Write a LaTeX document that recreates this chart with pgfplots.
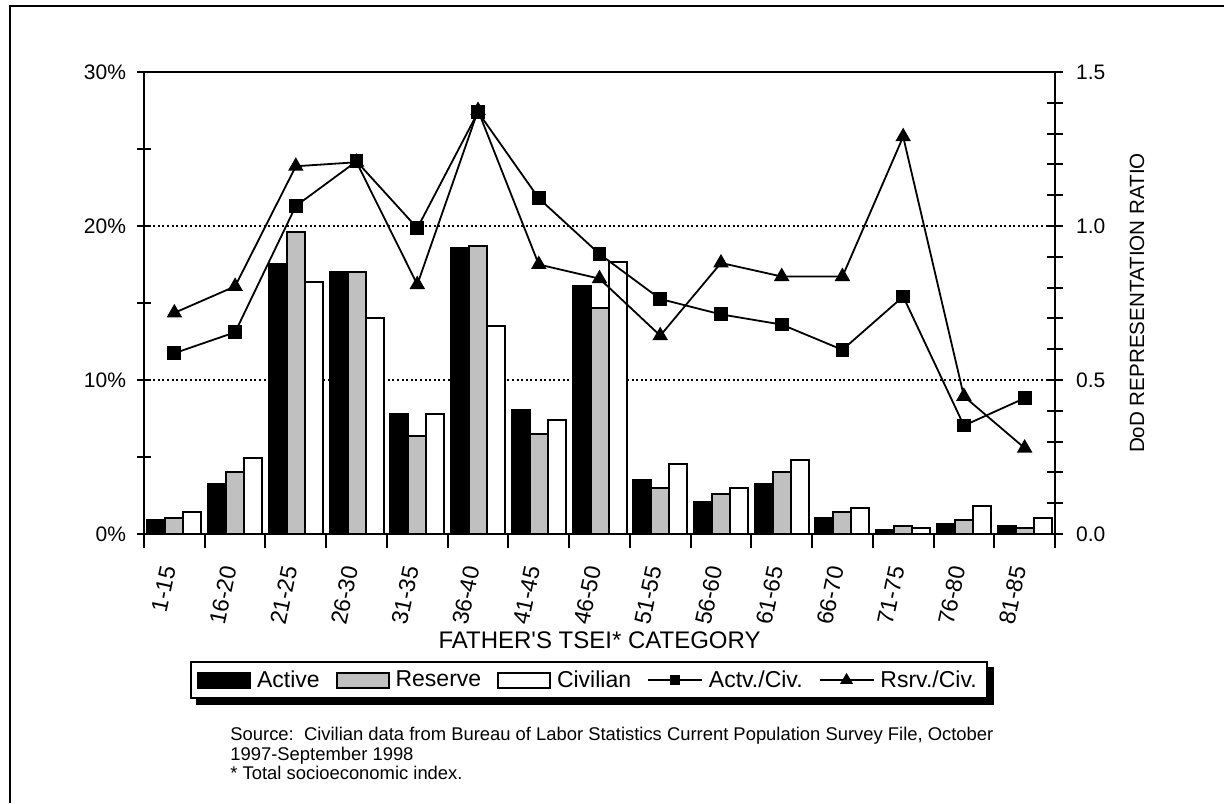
\documentclass[border=0pt]{standalone}
\usepackage{fontspec}
\setmainfont{Liberation Sans}
\usepackage{pgfplots}
\usepackage{pgfplotstable}
\pgfplotsset{compat=1.18}
\usetikzlibrary{backgrounds}
\definecolor{resgray}{HTML}{C0C0C0}

% shares by father's TSEI category (percent) and representation ratios
\pgfplotstableread{
idx active reserve civilian actciv rsvciv
0  0.92  1.03  1.42 0.587 0.718
1  3.26  4.02  4.93 0.655 0.804
2  17.56 19.59 16.36 1.065 1.194
3  17.01 17.01 14.02 1.210 1.207
4  7.81  6.36  7.79 0.993 0.810
5  18.60 18.70 13.50 1.370 1.375
6  8.07  6.49  7.40 1.090 0.875
7  16.13 14.67 17.66 0.909 0.829
8  3.52  3.00  4.54 0.763 0.644
9  2.11  2.61  3.00 0.713 0.880
10 3.26  4.02  4.80 0.680 0.836
11 1.05  1.42  1.68 0.598 0.836
12 0.27  0.51  0.38 0.771 1.290
13 0.66  0.90  1.81 0.352 0.447
14 0.53  0.38  1.03 0.441 0.279
}\tsei

\begin{document}
\begin{tikzpicture}[x=1pt,y=1pt]
\useasboundingbox (0,0) rectangle (612,401.5);
\draw[line width=1pt] (5,0) -- (5,398.5) -- (612,398.5);

\begin{axis}[
  at={(72pt,134.5pt)}, anchor=south west, scale only axis,
  width=455.5pt, height=231pt,
  xmin=-0.5, xmax=14.5, ymin=0, ymax=30,
  axis line style={line width=1.1pt},
  xtick={0,...,14},
  xticklabels={1-15,16-20,21-25,26-30,31-35,36-40,41-45,46-50,51-55,56-60,61-65,66-70,71-75,76-80,81-85},
  major x tick style={draw=none},
  minor xtick={-0.5,0.5,...,14.5},
  xtick pos=bottom, ytick pos=left,
  ytick={0,10,20,30}, yticklabels={0\%,10\%,20\%,30\%},
  minor ytick={5,15,25},
  tick align=center, major tick length=7pt, minor tick length=7pt,
  tick style={line width=1pt, black},
  x tick label style={inner sep=0pt, xshift=-3pt, yshift=-9pt, rotate=78, anchor=east, font=\fontsize{11.5}{14}\selectfont},
  y tick label style={font=\fontsize{10.5}{12}\selectfont, xshift=-2pt},
  /pgf/number format/assume math mode=true,
  ymajorgrids, grid style={black, line width=0.8pt, dash pattern=on 1pt off 1.3pt},
  xlabel={FATHER\textquotesingle S TSEI* CATEGORY},
  xlabel style={at={(axis description cs:0.5,-0.2305)}, anchor=center, font=\fontsize{12}{14}\selectfont},
  ybar, bar width=9pt,
]
\addplot[bar shift=-9pt, draw=black, line width=1pt, fill=black] table[x=idx, y=active] {\tsei};
\addplot[bar shift=0pt, draw=black, line width=1pt, fill=resgray] table[x=idx, y=reserve] {\tsei};
\addplot[bar shift=9pt, draw=black, line width=1pt, fill=white] table[x=idx, y=civilian] {\tsei};
\end{axis}

\begin{axis}[
  at={(72pt,134.5pt)}, anchor=south west, scale only axis,
  width=455.5pt, height=231pt,
  xmin=-0.5, xmax=14.5, ymin=0, ymax=1.5,
  axis x line=none, axis y line*=right,
  axis line style={line width=1.1pt},
  ytick={0,0.5,1,1.5}, yticklabels={0.0,0.5,1.0,1.5},
  minor ytick={0.1,0.2,0.3,0.4,0.6,0.7,0.8,0.9,1.1,1.2,1.3,1.4},
  tick align=center, major tick length=8pt, minor tick length=8pt,
  tick style={line width=1pt, black},
  y tick label style={font=\fontsize{10.5}{12}\selectfont, xshift=3pt},
  /pgf/number format/assume math mode=true,
  ylabel={DoD REPRESENTATION RATIO},
  ylabel style={at={(axis description cs:1.09,0.5)}, anchor=center, rotate=0, font=\fontsize{10.3}{12}\selectfont},
  clip=false,
  legend columns=5,
  legend style={name=leg, at={(axis description cs:0.4885,-0.3165)}, anchor=center,
    draw=black, line width=1pt, fill=white,
    font=\fontsize{11.5}{13}\selectfont,
    /tikz/every odd column/.append style={column sep=1pt},
    /tikz/every even column/.append style={column sep=6pt}},
]
\addlegendimage{legend image code/.code={\draw[line width=0.9pt, fill=black] (0pt,-3.75pt) rectangle (26pt,3.75pt);}}
\addlegendentry{Active}
\addlegendimage{legend image code/.code={\draw[line width=0.9pt, fill=resgray] (0pt,-3.75pt) rectangle (26pt,3.75pt);}}
\addlegendentry{Reserve}
\addlegendimage{legend image code/.code={\draw[line width=0.9pt, fill=white] (0pt,-3.75pt) rectangle (26pt,3.75pt);}}
\addlegendentry{Civilian}
\addplot[black, line width=0.9pt, mark=square*, mark size=3pt,
  legend image code/.code={\draw[line width=0.9pt] (0pt,0pt) -- (27pt,0pt); \fill (11.5pt,-2pt) rectangle (15.5pt,2pt);}]
  table[x=idx, y=actciv] {\tsei};
\addlegendentry{Actv./Civ.}
\addplot[black, line width=0.9pt, mark=triangle*, mark size=3.6pt,
  legend image code/.code={\draw[line width=0.9pt] (0pt,0pt) -- (27pt,0pt); \fill (13.5pt,2.8pt) -- (11pt,-1.4pt) -- (16pt,-1.4pt) -- cycle;}]
  table[x=idx, y=rsvciv] {\tsei};
\addlegendentry{Rsrv./Civ.}
\end{axis}

\begin{scope}[on background layer]
\fill[black] ([shift={(3pt,-3pt)}]leg.south west) rectangle ([shift={(3pt,-3pt)}]leg.north east);
\end{scope}

\begin{scope}[every node/.style={anchor=base west, inner sep=0pt, font=\fontsize{9.2}{11}\selectfont}]
\node at (115,31.5) {Source:\ \ Civilian data from Bureau of Labor Statistics Current Population Survey File, October};
\node at (115,21.5) {1997-September 1998};
\node at (115,12) {* Total socioeconomic index.};
\end{scope}
\end{tikzpicture}
\end{document}
